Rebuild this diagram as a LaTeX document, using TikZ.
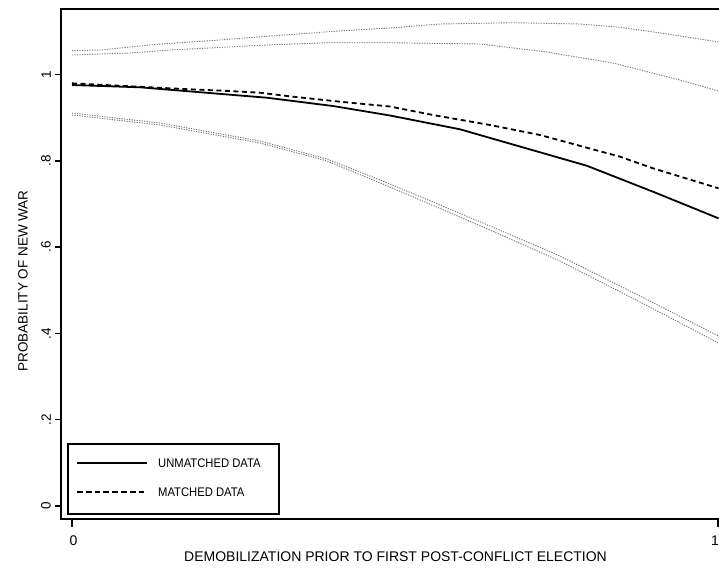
\documentclass[tikz,border=0pt]{standalone}
\usepackage{fontspec}
\usepackage{graphicx}
\setmainfont{Liberation Sans}
\begin{document}
\begin{tikzpicture}[x=1pt,y=-1pt,
  frameline/.style={black,line width=2pt},
  ticklbl/.style={inner sep=0pt,font=\fontsize{13.5}{14}\selectfont},
  ci/.style={black!55,line width=0.9pt,dash pattern=on 1.2pt off 1.3pt},
  unm/.style={black,line width=1.8pt,line join=round},
  mat/.style={black,line width=1.8pt,dash pattern=on 5pt off 3.5pt},
  legline/.style={black,line width=1.3pt},
  legdash/.style={black,line width=1.3pt,dash pattern=on 5.7pt off 3.1pt},
  legtxt/.style={anchor=west,inner sep=0pt,font=\fontsize{12.5}{13}\selectfont}]
\useasboundingbox (0,0) rectangle (719,571);
\fill[white] (0,0) rectangle (719,571);
% frame (right side lies outside the picture)
\coordinate (tl) at (61,9);
\coordinate (bl) at (61,519);
\coordinate (tr) at (719,9);
\coordinate (br) at (719,519);
\draw[frameline] (tr) -- (tl) -- (bl) -- (br);
% y ticks
\foreach \v/\py/\lab/\nm in {0/506/0/y0,0.2/419.7/.2/y2,0.4/333.4/.4/y4,0.6/247.1/.6/y6,0.8/160.8/.8/y8,1/74.5/1/y10}{
  \coordinate (\nm a) at (55,\py);
  \coordinate (\nm b) at (61,\py);
  \draw[black,line width=1.5pt] (\nm a) -- (\nm b);
  \node[ticklbl,rotate=90,anchor=south] (\nm l) at (51,\py) {\lab};
}
% x ticks
\coordinate (x0a) at (72,519); \coordinate (x0b) at (72,527);
\coordinate (x1a) at (718,519); \coordinate (x1b) at (718,527);
\draw[black,line width=1.5pt] (x0a) -- (x0b);
\draw[black,line width=1.5pt] (x1a) -- (x1b);
\node[inner sep=0pt,font=\fontsize{14}{15}\selectfont] (x0l) at (73.5,541) {0};
\node[inner sep=0pt,font=\fontsize{14}{15}\selectfont,anchor=east] (x1l) at (719,541) {1};
% axis titles
\node[inner sep=0pt,font=\fontsize{14}{15}\selectfont] (xtitle) at (395.5,557) {DEMOBILIZATION PRIOR TO FIRST POST-CONFLICT ELECTION};
\node[inner sep=0pt,rotate=90,font=\fontsize{13.5}{14}\selectfont] (ytitle) at (23,281) {PROBABILITY OF NEW WAR};
% confidence bands
\draw[ci] (72,50.7) -- (100,50) -- (157,44.3) -- (210,40.7) -- (293,34.3) -- (343,30.7) -- (390,28) -- (440,24) -- (513,22.7) -- (580,24) -- (620,27.3) -- (663,33.3) -- (718.5,42);
\draw[ci] (72,55) -- (130,53) -- (170,50) -- (267,45) -- (327,42.7) -- (390,42.7) -- (480,44) -- (547,52) -- (613,63) -- (680,80) -- (718.5,91);
\draw[ci] (72,113) -- (160,123) -- (260,141) -- (327,159) -- (390,184) -- (483,223) -- (560,256) -- (640,296) -- (718.5,336);
\draw[ci] (72,115) -- (160,125) -- (260,143) -- (327,161) -- (390,187) -- (483,227) -- (560,261) -- (640,302) -- (718.5,343);
% unmatched (solid)
\draw[unm] (72,85) -- (140,87.3) -- (266.7,97.7) -- (333,106) -- (390,115.5) -- (460,129.3) -- (586.7,165.7) -- (653,191.7) -- (718.5,218.3);
% matched (dashed)
\draw[mat] (72,83.3) -- (150,87.3) -- (190,89.3) -- (223,90.7) -- (260,92.7) -- (293,96.7) -- (340,101.7) -- (390,106.5) -- (433,115) -- (490,125) -- (540,135) -- (620,156.7) -- (653,168.3) -- (718.5,188.3);
% legend
\node[draw=black,line width=1.5pt,fill=white,inner sep=0pt,minimum width=211pt,minimum height=70pt,anchor=north west] (legend) at (67,443) {};
\coordinate (l1a) at (77,463); \coordinate (l1b) at (147,463);
\coordinate (l2a) at (77,492); \coordinate (l2b) at (147,492);
\draw[legline] (l1a) -- (l1b);
\draw[legdash] (l2a) -- (l2b);
\node[legtxt] (lt1) at (158,463) {\scalebox{0.9}[1]{UNMATCHED DATA}};
\node[legtxt] (lt2) at (158,492) {\scalebox{0.9}[1]{MATCHED DATA}};
\end{tikzpicture}
\end{document}
